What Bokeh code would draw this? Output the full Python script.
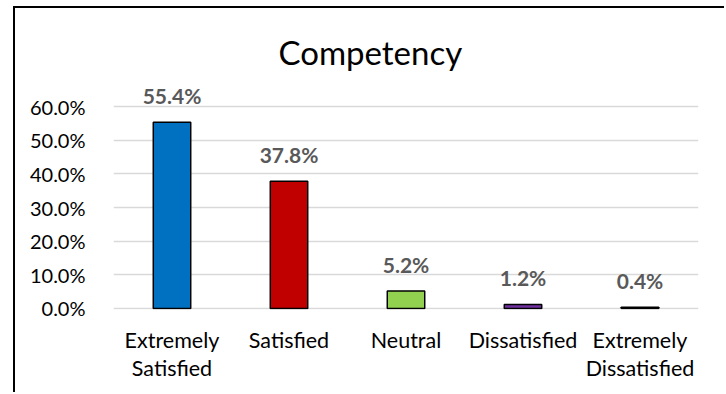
from bokeh.plotting import figure
from bokeh.models import ColumnDataSource, FixedTicker, NumeralTickFormatter
from bokeh.core.properties import value
from bokeh.embed import file_html
from bokeh.resources import INLINE

categories = ["Extremely\nSatisfied", "Satisfied", "Neutral", "Dissatisfied", "Extremely\nDissatisfied"]
values = [55.4, 37.8, 5.2, 1.2, 0.4]
colors = ["#0070C0", "#C00000", "#92D050", "#7030A0", "#404040"]
y_ticks = [0, 10, 20, 30, 40, 50, 60]

FONT = "Lato"

src = ColumnDataSource(dict(
    cat=categories,
    val=values,
    color=colors,
    label=[f"{v:.1f}%" for v in values],
))

p = figure(
    x_range=categories, y_range=(-0.3, 66),
    width=711, height=386,
    output_backend="svg", toolbar_location=None,
    min_border_left=98, min_border_right=28, min_border_top=78, min_border_bottom=85,
    title="Competency",
)
p.styles = {
    "margin-left": "13px", "margin-top": "6px",
    "border-left": "2px solid #000", "border-top": "2px solid #000",
}
p.outline_line_color = None
p.background_fill_color = "white"
p.border_fill_color = "white"

p.title.align = "left"
p.title.offset = 165
p.title.standoff = 29
p.title.text_font = FONT
p.title.text_font_size = "33px"
p.title.text_font_style = "normal"
p.title.text_color = "#000000"

p.vbar(x="cat", top="val", bottom=0, width=0.32, source=src,
       fill_color="color", line_color="#000000", line_width=1.5)

p.text(x="cat", y="val", text="label", source=src,
       text_align="center", text_baseline="middle", y_offset=-27,
       text_font=value(FONT), text_font_size="21px", text_font_style="bold",
       text_color="#595959")

p.yaxis.ticker = FixedTicker(ticks=y_ticks)
p.yaxis.formatter = NumeralTickFormatter(format="0.0")
p.yaxis.major_label_overrides = {t: f"{t:.1f}%" for t in y_ticks}
p.yaxis.axis_line_color = None
p.yaxis.major_tick_line_color = None
p.yaxis.minor_tick_line_color = None
p.yaxis.major_label_text_font = FONT
p.yaxis.major_label_text_font_size = "20px"
p.yaxis.major_label_text_color = "#000000"
p.yaxis.major_label_standoff = 22

p.xaxis.axis_line_color = None
p.xaxis.major_tick_line_color = None
p.xaxis.minor_tick_line_color = None
p.xaxis.major_label_text_font = FONT
p.xaxis.major_label_text_font_size = "21.5px"
p.xaxis.major_label_text_color = "#000000"
p.xaxis.major_label_text_line_height = 1.08
p.xaxis.major_label_standoff = 11

p.xgrid.grid_line_color = None
p.ygrid.ticker = FixedTicker(ticks=y_ticks)
p.ygrid.grid_line_color = "#D9D9D9"
p.ygrid.grid_line_width = 1.5

open("out.html", "w").write(file_html(p, INLINE))
